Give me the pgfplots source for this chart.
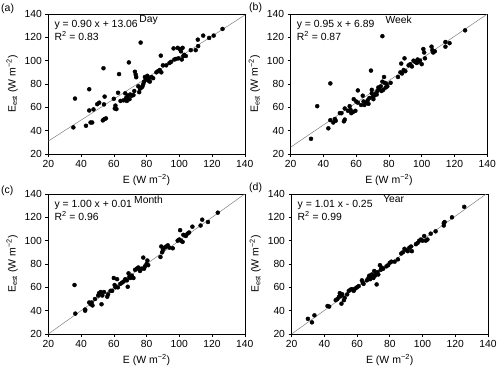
\documentclass[border=0pt]{standalone}
\usepackage{fontspec}
\setmainfont{Liberation Sans}
\usepackage{pgfplots}
\pgfplotsset{compat=1.18}

\pgfplotsset{panel/.style={
    scale only axis, width=196.5pt, height=140pt, anchor=south west,
    xmin=20, xmax=140, ymin=20, ymax=140,
    xtick={20,40,...,140}, ytick={20,40,...,140},
    tick align=outside, xtick pos=left, ytick pos=left,
    major tick length=3pt,
    /pgf/number format/assume math mode=true,
    ticklabel style={font=\fontsize{10.3}{11}\selectfont},
    label style={font=\fontsize{10.5}{12}\selectfont},
    xlabel={E (W m\textsuperscript{−2})},
    ylabel={E\textsubscript{est} (W m\textsuperscript{−2})},
    axis line style={line width=0.6pt},
    every tick/.style={black, line width=0.6pt},
}}
\tikzset{
  pts/.style={only marks, mark=*, mark size=2pt, black},
  fit/.style={gray, line width=0.5pt},
  eq/.style={anchor=north west, align=left, inner sep=0pt, xshift=6pt, yshift=-6pt,
             font=\fontsize{10.4}{12.7}\selectfont},
  ttl/.style={anchor=north, inner sep=0pt, yshift=-1.5pt, font=\fontsize{10.3}{12}\selectfont},
  plab/.style={anchor=west, inner sep=0pt, font=\fontsize{10.5}{12}\selectfont},
}

\begin{document}
\begin{tikzpicture}[x=1pt,y=1pt]
\path[use as bounding box] (0,0) rectangle (500,375);

% (a) Day
\begin{axis}[panel, at={(48.3pt,221pt)}]
\addplot[fit] coordinates {(20,31.06) (140,139.06)};
\addplot[pts] coordinates {
(35.3,42.8) (36.3,67.5) (43,44.2) (45,75.5) (45,57.3) (45.8,47) (46.8,47)
(47.6,58.2) (49.9,62.7) (51.1,64) (53.7,93.5) (53.3,48.8) (54.2,49.9) (55.2,50.5)
(54,62.5) (54.4,69.2) (60,67.3) (60.6,59) (61,61.5) (61.6,58.5) (62.6,72.5)
(63.2,88.5) (64.1,65.5) (66,66) (67,72) (67.5,68) (68,65.5) (68.5,70) (69.2,98.5)
(69.6,67) (70,71) (71,70) (72,70.5) (72.5,74) (72.9,90.5) (73.4,88) (73.7,85.8)
(75,78) (75.5,73) (76,76) (76.4,115.5) (77,77) (77.5,78) (78,80) (78.5,82)
(79,86) (79.5,84) (80,85) (80.5,87) (81,83) (81.5,85) (82,82) (83,86) (84,85)
(86,90) (87,91) (88,92) (88.7,104.3) (89,90) (90,96) (92,96) (94,98) (95,99)
(96.5,110.5) (97,101) (98,101.5) (99,111) (99.5,102) (100.3,110) (101,108)
(101.5,101) (102,111) (102.5,104) (103,105) (104,104) (107,109) (110,109)
(111.3,118) (111.5,112.5) (114.6,121.5) (118.2,119.5) (121,121.5) (126.4,127.2)
};
\node[eq] at (axis description cs:0,1) {y = 0.90 x + 13.06\\R\textsuperscript{2} = 0.83};
\node[ttl] at (axis description cs:0.51,1) {Day};
\end{axis}

% (b) Week
\begin{axis}[panel, at={(290.7pt,221pt)}]
\addplot[fit] coordinates {(20,25.89) (140,139.89)};
\addplot[pts] coordinates {
(32.4,33) (36.2,61) (43,42) (44.2,80.5) (44.2,49) (46,47) (47,50) (47.5,48.5)
(50,55) (51,55) (52.5,48) (53,49.5) (53,59) (55,57) (56,61) (56.5,58) (57,55)
(58,56) (58.5,67) (59.5,57) (60,65) (61,74.5) (61,64) (63,62) (64,70) (64.5,65)
(65,62) (66,64) (67,66) (67.5,63) (68,68) (69,91.5) (69.5,75) (69.5,72) (70,69)
(70.5,67) (71,70) (72,72) (72.5,71) (73,74) (73.5,77) (74,76) (75,78) (75.5,74)
(76,121) (76,82) (76.5,75) (77,86) (77.5,81) (78,77) (78.5,80) (79,78) (81,81)
(85.5,86) (87,90) (87.5,97.5) (88,89) (89,92) (89.5,102) (90,91) (92,96) (93,97)
(94,95) (95,100) (96,99) (97,98) (97.5,101) (98,99) (99,100) (100,97) (101,110)
(101.5,107) (102,102) (106,112) (106.5,109) (107,107) (108,108) (114.5,116)
(114.5,112) (117,115) (126.5,126)
};
\node[eq] at (axis description cs:0,1) {y = 0.95 x + 6.89\\R\textsuperscript{2} = 0.87};
\node[ttl] at (axis description cs:0.55,1) {Week};
\end{axis}

% (c) Month
\begin{axis}[panel, at={(48.3pt,41pt)}]
\addplot[fit] coordinates {(20,20.01) (140,140.01)};
\addplot[pts] coordinates {
(36,62) (36.5,37.5) (42.5,41) (42.5,40) (45,47) (46,45.5) (46.5,47) (47,44.5)
(48.5,50) (50.5,53) (51,55) (52,56) (52.5,45.5) (53,53) (54,56) (56,52) (56.5,54)
(58,57) (59,57) (60,68) (60.5,62) (61,60) (62,67) (62.5,60) (64,63) (65,64)
(66,65) (67,67) (68,66) (68.5,60.5) (69,72) (69.5,69) (70,68) (71,70) (72,68)
(73,75) (74,76) (75,77) (76,74) (77,76) (78,85.5) (78.5,76) (79,78) (80,80)
(80.5,83) (81,79) (88.5,86) (89,95) (89.5,90) (90,92) (91,94) (92,95) (93,96)
(94,94) (96,93.5) (99,100) (100,101) (100.5,109) (101,100) (102,99) (102.5,105)
(104,104) (105,106) (106,107) (108,112) (113,113) (114,118) (117.5,116) (123.5,124)
};
\node[eq] at (axis description cs:0,1) {y = 1.00 x + 0.01\\R\textsuperscript{2} = 0.96};
\node[ttl] at (axis description cs:0.51,1) {Month};
\end{axis}

% (d) Year
\begin{axis}[panel, at={(291.5pt,41pt)}]
\addplot[fit] coordinates {(20,19.95) (140,141.15)};
\addplot[pts] coordinates {
(30,33) (32.5,30) (34,36) (42,44) (43,43.5) (47,49) (48,50) (49,52) (49.5,55)
(50,52.5) (50.5,46) (51,54) (52,49) (52.5,51) (54,54) (55,57) (56,58) (57,58.5)
(58,57) (59,59) (60,60) (61,61) (63,66) (63.5,64) (64,63) (66,66) (67,68)
(67.5,70) (68,67) (68.5,69) (69,71) (70,68) (70.5,74) (71,70) (71.5,72) (72,62.5)
(72.5,73) (73,71) (74,79) (74.5,75) (75,77) (76,76) (78,78) (79,79) (80,81)
(81,82) (83,82) (85,84) (87,89) (88,90) (89,93) (90,92) (91,91) (92,94) (93,95)
(93.5,91) (96,97) (97,98) (98,100) (99,101) (100,100) (101,104) (102,100)
(103,101) (105,106) (108,108) (113,113) (113.5,116) (113,115) (118,120) (125.5,129)
};
\node[eq] at (axis description cs:0,1) {y = 1.01 x - 0.25\\R\textsuperscript{2} = 0.99};
\node[ttl] at (axis description cs:0.52,1) {Year};
\end{axis}

\node[plab] at (1,366.5) {(a)};
\node[plab] at (249,367) {(b)};
\node[plab] at (1,184.5) {(c)};
\node[plab] at (249,187) {(d)};
\end{tikzpicture}
\end{document}
